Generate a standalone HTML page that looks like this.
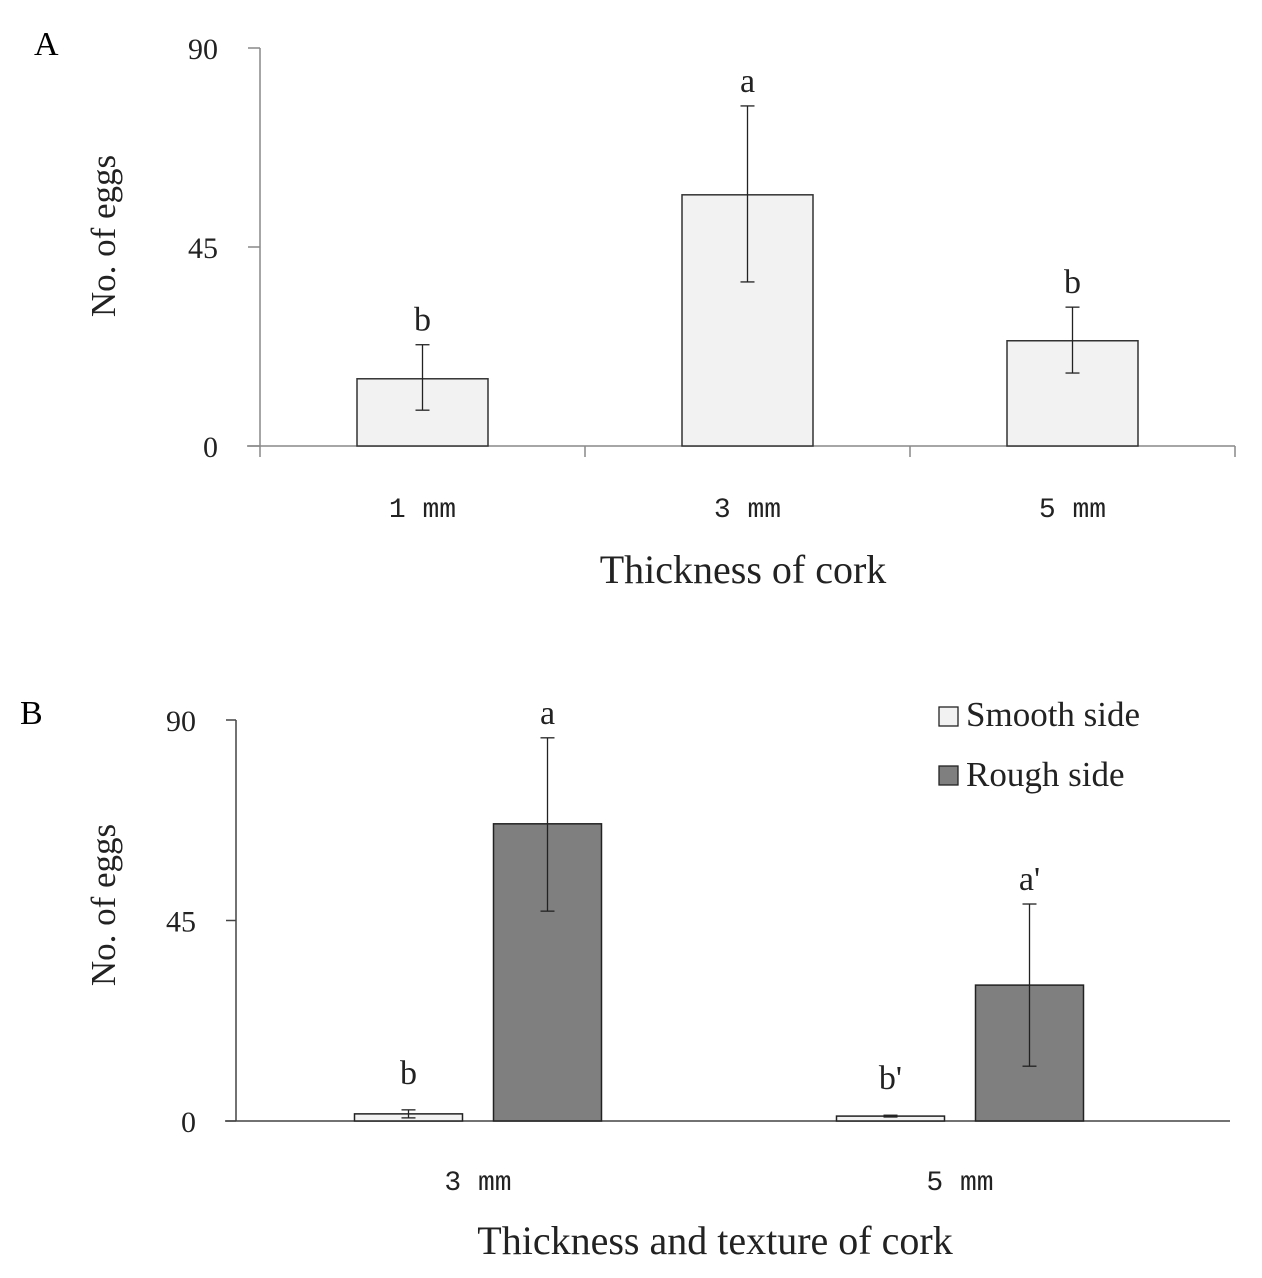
<!DOCTYPE html>
<html><head><meta charset="utf-8"><style>
html,body{margin:0;padding:0;background:#fff;}
svg{display:block;font-family:"Liberation Serif",serif;}
</style></head><body>
<svg id="chart" width="1262" height="1278" viewBox="0 0 1262 1278" xmlns="http://www.w3.org/2000/svg">
<text x="34" y="55" font-size="34">A</text>
<text x="20" y="724" font-size="34">B</text>
<g id="ga"></g>
<g id="gb"></g>
</svg>
<script>
const catsA = ["1 mm","3 mm","5 mm"];
const meansA = [15.2, 56.8, 23.8];
const errHiA = [22.9, 76.9, 31.4];
const errLoA = [8.1, 37.1, 16.5];
const lettersA = ["b","a","b"];
const catsB = ["3 mm","5 mm"];
const smoothB = [1.6, 1.1];
const smoothHiB = [2.5, 1.3];
const smoothLoB = [0.7, 0.9];
const roughB = [66.7, 30.5];
const roughHiB = [86.0, 48.7];
const roughLoB = [47.1, 12.3];
const lettersSmoothB = ["b","b'"];
const lettersRoughB = ["a","a'"];
const yTicks = [0, 45, 90];

const NS="http://www.w3.org/2000/svg";
function mk(parent, tag, attrs, text){
  const e=document.createElementNS(NS,tag);
  for(const k in attrs) e.setAttribute(k, attrs[k]);
  if(text!==undefined) e.textContent=text;
  parent.appendChild(e); return e;
}
function errbar(g, cx, yHi, yLo, cap){
  const l=mk(g,'line',{x1:cx,x2:cx,y1:yHi,y2:yLo,stroke:'#222','stroke-width':1.3});
  
  
  mk(g,'line',{x1:cx-cap,x2:cx+cap,y1:yHi,y2:yHi,stroke:'#222','stroke-width':1.3});
  mk(g,'line',{x1:cx-cap,x2:cx+cap,y1:yLo,y2:yLo,stroke:'#222','stroke-width':1.3});
}

// Chart A
(function(){
  const g=document.getElementById('ga');
  const x0=260, x1=1235, y0=446, yTop=48, ymax=90;
  const y=v=>y0-(v/ymax)*(y0-yTop);
  const band=(x1-x0)/catsA.length;
  mk(g,'line',{x1:x0,x2:x0,y1:yTop,y2:y0,stroke:'#888','stroke-width':1.5});
  mk(g,'line',{x1:247,x2:x1,y1:y0,y2:y0,stroke:'#888','stroke-width':1.5});
  for(let i=0;i<=catsA.length;i++){ mk(g,'line',{x1:x0+i*band,x2:x0+i*band,y1:y0,y2:y0+11,stroke:'#888','stroke-width':1.5}); }
  yTicks.forEach(t=>{
    mk(g,'line',{x1:248,x2:x0,y1:y(t),y2:y(t),stroke:'#888','stroke-width':1.5});
    const tx=mk(g,'text',{x:218,y:y(t)+11,'font-size':30,'text-anchor':'end',fill:'#222'},String(t));
    
    
  });
  catsA.forEach((c,i)=>{
    const cx=x0+band*(i+0.5), w=131;
    const r=mk(g,'rect',{x:cx-w/2,y:y(meansA[i]),width:w,height:y0-y(meansA[i]),fill:'#f2f2f2',stroke:'#333','stroke-width':1.5});
    
    
    errbar(g,cx,y(errHiA[i]),y(errLoA[i]),7);
    const lt=mk(g,'text',{x:cx,y:y(errHiA[i])-14,'font-size':34,'text-anchor':'middle',fill:'#222'},lettersA[i]);
    
    
    const cl=mk(g,'text',{x:cx,y:517,'font-size':28,'text-anchor':'middle',fill:'#222','font-family':'Liberation Mono, monospace'},c);
    
    
  });
  const xt=mk(g,'text',{x:743,y:583,'font-size':40,'text-anchor':'middle',fill:'#222'},'Thickness of cork');
  
  
  const yt=mk(g,'text',{x:0,y:0,'font-size':35,'text-anchor':'middle',fill:'#222',transform:'translate(115,236) rotate(-90)'},'No. of eggs');
  
  
})();

// Chart B
(function(){
  const g=document.getElementById('gb');
  const x0=236, x1=1230, y0=1121, yTop=720, ymax=90;
  const y=v=>y0-(v/ymax)*(y0-yTop);
  const centers=[478, 960], w=108, gap=31;
  mk(g,'line',{x1:x0,x2:x0,y1:yTop,y2:y0,stroke:'#444','stroke-width':1.5});
  mk(g,'line',{x1:225,x2:x1,y1:y0,y2:y0,stroke:'#444','stroke-width':1.5});
  yTicks.forEach(t=>{
    mk(g,'line',{x1:226,x2:x0,y1:y(t),y2:y(t),stroke:'#444','stroke-width':1.5});
    const tx=mk(g,'text',{x:196,y:y(t)+11,'font-size':30,'text-anchor':'end',fill:'#222'},String(t));
    
    
  });
  catsB.forEach((c,i)=>{
    const cs=centers[i]-gap/2-w/2, cr=centers[i]+gap/2+w/2;
    const r1=mk(g,'rect',{x:cs-w/2,y:y(smoothB[i]),width:w,height:y0-y(smoothB[i]),fill:'#f2f2f2',stroke:'#222','stroke-width':1.5});
    
    
    const r2=mk(g,'rect',{x:cr-w/2,y:y(roughB[i]),width:w,height:y0-y(roughB[i]),fill:'#7f7f7f',stroke:'#222','stroke-width':1.5});
    
    
    errbar(g,cs,y(smoothHiB[i]),y(smoothLoB[i]),7);
    errbar(g,cr,y(roughHiB[i]),y(roughLoB[i]),7);
    const l1=mk(g,'text',{x:cs,y:y(smoothHiB[i])-26,'font-size':34,'text-anchor':'middle',fill:'#222'},lettersSmoothB[i]);
    
    
    const l2=mk(g,'text',{x:cr,y:y(roughHiB[i])-14,'font-size':34,'text-anchor':'middle',fill:'#222'},lettersRoughB[i]);
    
    
    const cl=mk(g,'text',{x:centers[i],y:1190,'font-size':28,'text-anchor':'middle',fill:'#222','font-family':'Liberation Mono, monospace'},c);
    
    
  });
  const xt=mk(g,'text',{x:715,y:1254,'font-size':40,'text-anchor':'middle',fill:'#222'},'Thickness and texture of cork');
  
  
  const yt=mk(g,'text',{x:0,y:0,'font-size':35,'text-anchor':'middle',fill:'#222',transform:'translate(115,905) rotate(-90)'},'No. of eggs');
  
  
  const lg=mk(g,'g',{});
  
  
  const e1=mk(lg,'rect',{x:939,y:707,width:19,height:19,fill:'#f2f2f2',stroke:'#222','stroke-width':1.3});
  
  
  mk(lg,'text',{x:966,y:726,'font-size':35,fill:'#222'},'Smooth side');
  const e2=mk(lg,'rect',{x:939,y:766,width:19,height:19,fill:'#7f7f7f',stroke:'#222','stroke-width':1.3});
  
  
  mk(lg,'text',{x:966,y:786,'font-size':35,fill:'#222'},'Rough side');
})();
</script>
</body></html>
